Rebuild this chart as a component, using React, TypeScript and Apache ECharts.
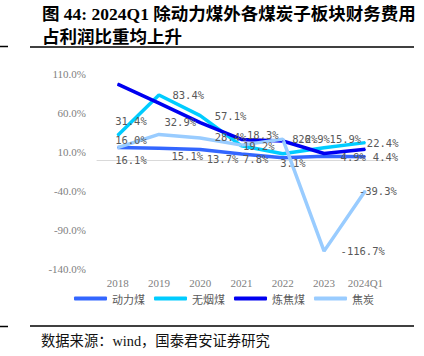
import React, { useEffect, useRef } from "react";
import * as echarts from "echarts";

const categories = ["2018", "2019", "2020", "2021", "2022", "2023", "2024Q1"];
const seriesNames = ["动力煤", "无烟煤", "炼焦煤", "焦炭"];
const thermalCoal = [16.1, 15.1, 13.7, 7.8, 3.1, 4.9, 4.4];
const anthracite = [31.4, 83.4, 57.1, 18.3, 8.2, 15.9, 22.4];
const cokingCoal = [97.5, 73.0, 48.0, 26.5, 24.5, 8.5, 13.8];
const coke = [16.0, 32.9, 28.4, 19.2, 26.9, -116.7, -39.3];
const yMin = -140;
const yMax = 110;
const yInterval = 50;

const titleLine1 = "图 44: 2024Q1 除动力煤外各煤炭子板块财务费用";
const titleLine2 = "占利润比重均上升";
const sourceText = "数据来源：wind，国泰君安证券研究";

// label placement (dx, dy) relative to each point
const thermalOffsets = [[-3, 12], [12, 8], [6, 10], [1, 5], [-3, 5], [16, 1], [7, 0]];
const anthraciteOffsets = [[-3, -15], [13, 0], [14, 0], [5, -11], [9, -15], [5, -9], [1, 0]];
const cokeOffsets = [[-3, -8], [5, -12], [14, -1], [1, 1], [15, 0], [16, 0], [-7, 0]];

const colors = ["#3366ff", "#00ccff", "#0000f0", "#99ccff"];

const labelStyle = {
  show: true,
  position: "right",
  distance: 0,
  color: "#595959",
  fontSize: 10.5,
  fontFamily: "'DejaVu Sans Mono', monospace",
  formatter: (p: any) => Number(p.value).toFixed(1) + "%",
};

function withLabels(values: number[], offsets: number[][] | null) {
  return values.map((v, i) =>
    offsets ? { value: v, label: { offset: offsets[i] } } : { value: v }
  );
}

function makeSeries(name: string, values: number[], offsets: number[][] | null, color: string) {
  return {
    name,
    type: "line",
    data: withLabels(values, offsets),
    symbol: "circle",
    symbolSize: 1,
    showSymbol: true,
    itemStyle: { color },
    lineStyle: { color, width: 3.5 },
    label: offsets ? labelStyle : { show: false },
    emphasis: { disabled: true },
  };
}

export default function App() {
  const ref = useRef<HTMLDivElement>(null);
  useEffect(() => {
    if (!ref.current) return;
    const chart = echarts.init(ref.current, undefined, { renderer: "svg" });
    const serif = "'Liberation Serif', 'Times New Roman', 'Noto Sans CJK SC', serif";
    chart.setOption({
      animation: false,
      color: colors,
      grid: { left: 97, right: 38, top: 74.3, bottom: 86.7, containLabel: false },
      xAxis: {
        type: "category",
        data: categories,
        boundaryGap: true,
        axisLine: { show: true, onZero: true, lineStyle: { color: "#d9d9d9", width: 1 } },
        axisTick: { show: false },
        axisLabel: { color: "#808080", fontSize: 11, fontFamily: serif, margin: 8, interval: 0 },
        splitLine: { show: false },
      },
      yAxis: {
        type: "value",
        min: yMin,
        max: yMax,
        interval: yInterval,
        axisLine: { show: false },
        axisTick: { show: false },
        splitLine: { show: false },
        axisLabel: {
          color: "#808080",
          fontSize: 11,
          fontFamily: serif,
          margin: 11,
          formatter: (v: number) => v.toFixed(1) + "%",
        },
      },
      legend: {
        data: seriesNames,
        left: 69,
        top: 288,
        icon: "roundRect",
        itemWidth: 33,
        itemHeight: 4,
        itemGap: 9,
        textStyle: { color: "#595959", fontSize: 11, fontFamily: "'Noto Sans CJK SC', sans-serif" },
      },
      series: [
        makeSeries(seriesNames[0], thermalCoal, thermalOffsets, colors[0]),
        makeSeries(seriesNames[1], anthracite, anthraciteOffsets, colors[1]),
        makeSeries(seriesNames[2], cokingCoal, null, colors[2]),
        makeSeries(seriesNames[3], coke, cokeOffsets, colors[3]),
      ],
      graphic: [
        {
          type: "text",
          x: 42,
          y: 14,
          style: {
            text: titleLine1,
            fill: "#000",
            fontSize: 17.5,
            fontWeight: "bold",
            fontFamily: serif,
            verticalAlign: "middle",
            textVerticalAlign: "middle",
          },
        },
        {
          type: "text",
          x: 42,
          y: 37,
          style: {
            text: titleLine2,
            fill: "#000",
            fontSize: 17.5,
            fontWeight: "bold",
            fontFamily: serif,
            verticalAlign: "middle",
            textVerticalAlign: "middle",
          },
        },
        { type: "line", shape: { x1: 0, y1: 46.5, x2: 8, y2: 46.5 }, style: { stroke: "#000", lineWidth: 1.5 } },
        { type: "line", shape: { x1: 30, y1: 47, x2: 414, y2: 47 }, style: { stroke: "#000", lineWidth: 1.5 } },
        { type: "line", shape: { x1: 0, y1: 326.5, x2: 8, y2: 326.5 }, style: { stroke: "#000", lineWidth: 1.5 } },
        { type: "line", shape: { x1: 30, y1: 326, x2: 414, y2: 326 }, style: { stroke: "#000", lineWidth: 1.5 } },
        {
          type: "text",
          x: 41,
          y: 341,
          style: {
            text: sourceText,
            fill: "#111",
            fontSize: 14.3,
            fontFamily: serif,
            verticalAlign: "middle",
            textVerticalAlign: "middle",
          },
        },
      ],
    });
    return () => chart.dispose();
  }, []);
  return (
    <div
      ref={ref}
      style={{ position: "fixed", left: 0, top: 0, width: 424, height: 356, background: "#fff" }}
    />
  );
}
